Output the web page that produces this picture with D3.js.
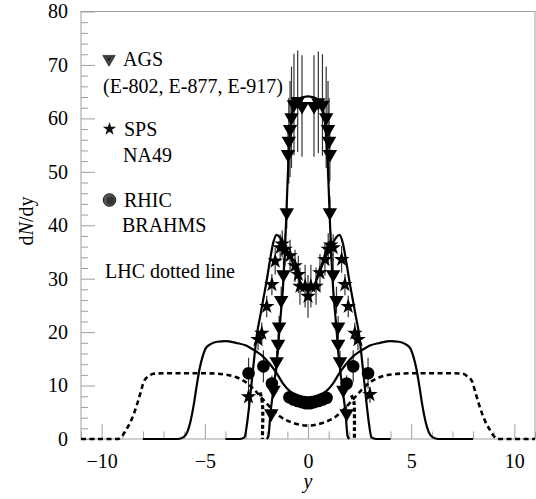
<!DOCTYPE html>
<html>
<head>
<meta charset="utf-8">
<script src="https://cdn.jsdelivr.net/npm/d3@7"></script>
<style>
  body { margin: 0; background: #fff; }
  text { font-family: "Liberation Serif", "Times New Roman", serif; fill: #000; }
</style>
</head>
<body>
<div id="chart-area"></div>
<script>
// data

// AGS (triangles)
var agsY   = [-1.78, -1.67, -1.52, -1.45, -1.40, -1.30, -1.19, -1.03, -0.97, -0.93, -0.87, -0.80, -0.68, -0.50, -0.29,
               0.29,  0.50,  0.70,  0.88,  0.97,  1.02,  1.06,  1.06,  1.22,  1.38,  1.46,  1.46,  1.55,  1.71,  1.87];
var agsN   = [4.8, 9.2, 14.5, 17.8, 21.0, 26.0, 30.8, 42.4, 53.3, 55.8, 58.0, 60.2, 62.6, 63.2, 62.3,
              62.3, 63.0, 62.5, 60.2, 58.0, 55.8, 53.3, 42.4, 30.8, 26.0, 21.0, 17.8, 14.5, 9.2, 4.8];
var agsErr = [1.5, 1.5, 2, 2, 2, 2.5, 3, 3, 5, 8, 9, 9.5, 9.5, 9.5, 9.5,
              9.5, 9.5, 9.5, 9.5, 9, 8, 5, 3, 3, 2.5, 2, 2, 2, 1.5, 1.5];

// SPS NA49 (stars)
var spsY   = [-2.88, -2.42, -2.24, -2.00, -1.75, -1.59, -1.35, -1.25, -1.11, -0.87, -0.63, -0.47, -0.39, -0.14, 0.00,
               0.14,  0.39,  0.58,  0.82,  0.98,  1.10,  1.22,  1.63,  1.79,  1.95,  2.27,  2.42,  3.00];
var spsN   = [7.9, 18.6, 19.8, 24.8, 28.9, 33.3, 35.8, 36.5, 35.5, 34.3, 32.4, 30.8, 28.6, 28.6, 26.7,
              28.6, 28.6, 31.1, 33.6, 35.5, 36.3, 35.8, 33.6, 28.9, 24.8, 19.8, 18.6, 8.3];
var spsErr = [1.5, 2, 2, 2, 2, 2.5, 2.5, 2.5, 3, 3, 3, 3.5, 3.5, 4, 4,
              4, 3.5, 3.5, 3, 3, 2.5, 2.5, 2.5, 2, 2, 2, 2, 1.5];

// RHIC BRAHMS (circles)
var rhicY   = [-2.88, -2.16, -1.75, -0.90, -0.70, -0.50, -0.30, -0.10, 0.10, 0.30, 0.50, 0.70, 0.90, 1.87, 2.19, 2.91];
var rhicN   = [12.3, 13.6, 10.4, 7.8, 7.4, 7.1, 6.9, 6.7, 6.7, 6.9, 7.1, 7.4, 7.7, 10.4, 13.6, 12.3];
var rhicErr = [2.9, 3.0, 1.5, 0.8, 0.8, 0.8, 0.8, 0.8, 0.8, 0.8, 0.8, 0.8, 0.8, 1.5, 3.0, 2.9];

// model curves
var agsCurveY = [-2.0, -1.92, -1.82, -1.65, -1.5, -1.35, -1.22, -1.12, -1.03, -0.95, -0.85, -0.7, -0.45, -0.2, 0,
                  0.2, 0.45, 0.7, 0.85, 0.95, 1.03, 1.12, 1.22, 1.35, 1.5, 1.65, 1.82, 1.92, 2.0];
var agsCurveN = [0, 0.5, 4.8, 10, 15, 22, 28, 35, 44, 52, 58, 62, 63.6, 64, 64.1,
                 64, 63.6, 62, 58, 52, 44, 35, 28, 22, 15, 10, 4.8, 0.5, 0];

var spsCurveY = [-4, -3.3, -3.08, -2.95, -2.8, -2.65, -2.48, -2.3, -2.16, -2.0, -1.84, -1.68, -1.52, -1.38, -1.2, -1.0, -0.8, -0.6, -0.4, -0.2, 0,
                  0.2, 0.4, 0.6, 0.8, 1.0, 1.2, 1.38, 1.52, 1.68, 1.84, 2.0, 2.16, 2.3, 2.48, 2.65, 2.8, 2.95, 3.08, 3.3, 4];
var spsCurveN = [0, 0, 0.3, 3, 8, 13.5, 19.5, 23.3, 26.3, 29.7, 33.5, 36.8, 38.2, 37.8, 36.6, 35.2, 33.6, 31.6, 29.6, 28.2, 27.7,
                 28.2, 29.6, 31.6, 33.6, 35.2, 36.6, 37.8, 38.2, 36.8, 33.5, 29.7, 26.3, 23.3, 19.5, 13.5, 8, 3, 0.3, 0, 0];

var rhicCurveY = [-8, -6.3, -6.05, -5.85, -5.7, -5.55, -5.4, -5.25, -5.1, -4.95, -4.7, -4.4, -4.0, -3.5, -3.0, -2.6, -2.2, -1.8, -1.5, -1.2, -0.9, -0.5, 0,
                   0.5, 0.9, 1.2, 1.5, 1.8, 2.2, 2.6, 3.0, 3.5, 4.0, 4.4, 4.7, 4.95, 5.1, 5.25, 5.4, 5.55, 5.7, 5.85, 6.05, 6.3, 8];
var rhicCurveN = [0, 0, 0.3, 1.3, 3.2, 6.1, 9.8, 13.2, 15.5, 17.0, 17.8, 18.2, 18.3, 18.0, 17.5, 16.6, 15.5, 13.8, 12.2, 10.3, 9.0, 8.2, 7.8,
                  8.2, 9.0, 10.3, 12.2, 13.8, 15.5, 16.6, 17.5, 18.0, 18.3, 18.2, 17.8, 17.0, 15.5, 13.2, 9.8, 6.1, 3.2, 1.3, 0.3, 0, 0];

var lhcCurveY = [-11, -9.2, -9.0, -8.8, -8.6, -8.45, -8.3, -8.12, -7.95, -7.7, -7.5, -7, -6, -5, -4.1, -3.5, -3.0, -2.6, -2.16, -1.8, -1.35, -0.7, 0,
                  0.7, 1.35, 1.8, 2.16, 2.6, 3.0, 3.5, 4.1, 5, 6, 7, 7.5, 7.7, 7.95, 8.12, 8.3, 8.45, 8.6, 8.8, 9.0, 9.2, 11];
var lhcCurveN = [0, 0, 0.6, 1.8, 3.2, 4.6, 6.3, 8.6, 10.8, 11.8, 12.2, 12.3, 12.3, 12.3, 12.1, 11.6, 10.6, 9.2, 7.3, 5.8, 4.2, 3.0, 2.5,
                 3.0, 4.2, 5.8, 7.3, 9.2, 10.6, 11.6, 12.1, 12.3, 12.3, 12.3, 12.2, 11.8, 10.8, 8.6, 6.3, 4.6, 3.2, 1.8, 0.6, 0, 0];

// short thick dotted branches near y = +-2.2
var dotLeftY  = [-2.32, -2.22, -2.19, -2.20, -2.21];
var dotLeftN  = [8.7, 7.0, 4.5, 2.0, 0];
var dotRightY = [2.10, 2.22, 2.25, 2.25, 2.25];
var dotRightN = [8.2, 7.0, 4.5, 2.0, 0];

var xMajor = [-10, -5, 0, 5, 10];
var xMinor = [-11, -9, -8, -7, -6, -4, -3, -2, -1, 1, 2, 3, 4, 6, 7, 8, 9, 11];
var yMajor = [0, 10, 20, 30, 40, 50, 60, 70, 80];
var yMinor = [2, 4, 6, 8, 12, 14, 16, 18, 22, 24, 26, 28, 32, 34, 36, 38, 42, 44, 46, 48, 52, 54, 56, 58, 62, 64, 66, 68, 72, 74, 76, 78];

// canvas
var W = 536, H = 499;
var mL = 81, mR = 535, mT = 11.5, mB = 439;
var axisGray = "#a0a0a0";
var serif = '"Liberation Serif", "Times New Roman", serif';

var svg = d3.select("#chart-area").append("svg")
    .attr("width", W)
    .attr("height", H);

var x = d3.scaleLinear().domain([-11, 11]).range([mL, mR]);
var y = d3.scaleLinear().domain([0, 80]).range([mB, mT]);

// frame
svg.append("rect")
    .attr("x", mL).attr("y", mT)
    .attr("width", mR - mL).attr("height", mB - mT)
    .attr("fill", "none").attr("stroke", axisGray).attr("stroke-width", 1);

// axes
function styleAxis(g) {
    g.attr("font-family", serif);
    g.select(".domain").remove();
    g.selectAll(".tick line").attr("stroke", axisGray);
    g.selectAll(".tick text").style("font-size", "20px").style("font-family", serif);
}

svg.append("g")
    .attr("transform", "translate(0," + mB + ")")
    .call(d3.axisBottom(x).tickValues(xMinor).tickSize(-7.5).tickFormat(""))
    .call(styleAxis);
svg.append("g")
    .attr("transform", "translate(0," + mB + ")")
    .call(d3.axisBottom(x).tickValues(xMajor).tickSize(-15).tickPadding(15))
    .call(styleAxis);

svg.append("g")
    .attr("transform", "translate(" + mL + ",0)")
    .call(d3.axisLeft(y).tickValues(yMinor).tickSize(-7).tickFormat(""))
    .call(styleAxis);
svg.append("g")
    .attr("transform", "translate(" + mL + ",0)")
    .call(d3.axisLeft(y).tickValues(yMajor).tickSize(-14).tickPadding(13))
    .call(styleAxis);

// axis titles
svg.append("text")
    .attr("x", x(0)).attr("y", 488)
    .attr("text-anchor", "middle")
    .style("font-size", "20px").style("font-style", "italic")
    .text("y");

var yt = svg.append("text")
    .attr("transform", "translate(33,221) rotate(-90)")
    .attr("text-anchor", "middle")
    .style("font-size", "20px");
yt.append("tspan").text("d");
yt.append("tspan").style("font-style", "italic").text("N");
yt.append("tspan").text("/dy");

// curves
function pts(xs, ns) {
    return xs.map(function(v, i) { return [v, ns[i]]; });
}

var mono = d3.line()
    .x(function(d) { return x(d[0]); })
    .y(function(d) { return y(d[1]); })
    .curve(d3.curveMonotoneX);

var free = d3.line()
    .x(function(d) { return x(d[0]); })
    .y(function(d) { return y(d[1]); })
    .curve(d3.curveCatmullRom);

var plot = svg.append("g");

// error bars
function errBars(xs, ns, es, col) {
    plot.selectAll(null)
        .data(pts(xs, ns).map(function(p, i) { return [p[0], p[1], es[i]]; }))
        .enter().append("line")
        .attr("x1", function(d) { return x(d[0]); })
        .attr("x2", function(d) { return x(d[0]); })
        .attr("y1", function(d) { return y(d[1] - d[2]); })
        .attr("y2", function(d) { return y(d[1] + d[2]); })
        .attr("stroke", col)
        .attr("stroke-width", 1.2);
}
errBars(agsY, agsN, agsErr, "#333");
errBars(spsY, spsN, spsErr, "#333");
errBars(rhicY, rhicN, rhicErr, "#333");

plot.append("path")
    .attr("d", mono(pts(lhcCurveY, lhcCurveN)))
    .attr("fill", "none").attr("stroke", "#000")
    .attr("stroke-width", 2.6).attr("stroke-dasharray", "5,3.5");

[[dotLeftY, dotLeftN], [dotRightY, dotRightN]].forEach(function(c) {
    plot.append("path")
        .attr("d", free(pts(c[0], c[1])))
        .attr("fill", "none").attr("stroke", "#000")
        .attr("stroke-width", 3.2).attr("stroke-dasharray", "4,2.5");
});

[[rhicCurveY, rhicCurveN], [spsCurveY, spsCurveN], [agsCurveY, agsCurveN]].forEach(function(c) {
    plot.append("path")
        .attr("d", mono(pts(c[0], c[1])))
        .attr("fill", "none").attr("stroke", "#000")
        .attr("stroke-width", 2.2);
});

// markers
var tri = d3.symbol().type(d3.symbolTriangle).size(90);
var star = d3.symbol().type(d3.symbolStar).size(75);

plot.selectAll(null)
    .data(pts(agsY, agsN))
    .enter().append("path")
    .attr("d", tri)
    .attr("transform", function(d) { return "translate(" + x(d[0]) + "," + y(d[1]) + ") rotate(180)"; })
    .attr("fill", "#000");

plot.selectAll(null)
    .data(pts(spsY, spsN))
    .enter().append("path")
    .attr("d", star)
    .attr("transform", function(d) { return "translate(" + x(d[0]) + "," + y(d[1]) + ")"; })
    .attr("fill", "#000");

plot.selectAll(null)
    .data(pts(rhicY, rhicN))
    .enter().append("circle")
    .attr("cx", function(d) { return x(d[0]); })
    .attr("cy", function(d) { return y(d[1]); })
    .attr("r", 6.3)
    .attr("fill", "#000");

// legend
var lg = svg.append("g");
[12.5, 9, 5.5].forEach(function(s, i) {
    lg.append("path")
        .attr("d", d3.symbol().type(d3.symbolTriangle).size(s * s * 0.433)())
        .attr("transform", "translate(109,59) rotate(180)")
        .attr("fill", i === 0 ? "#333" : (i === 1 ? "#888" : "#222"))
        .attr("stroke", "#333").attr("stroke-width", 0.8);
});
lg.append("path")
    .attr("d", d3.symbol().type(d3.symbolStar).size(55)())
    .attr("transform", "translate(109.5,129)")
    .attr("fill", "#111");
lg.append("circle").attr("cx", 109.5).attr("cy", 200).attr("r", 6.3)
    .attr("fill", "#555").attr("stroke", "#222").attr("stroke-width", 1);
lg.append("circle").attr("cx", 110.5).attr("cy", 200.5).attr("r", 4)
    .attr("fill", "#333");

var legendText = [
    ["AGS", 123, 66],
    ["(E-802, E-877, E-917)", 103, 93],
    ["SPS", 124, 136],
    ["NA49", 123, 162],
    ["RHIC", 124, 207],
    ["BRAHMS", 122, 232],
    ["LHC dotted line", 105, 278]
];
lg.selectAll(null)
    .data(legendText)
    .enter().append("text")
    .attr("x", function(d) { return d[1]; })
    .attr("y", function(d) { return d[2]; })
    .style("font-size", "20px")
    .text(function(d) { return d[0]; });
</script>
</body>
</html>
